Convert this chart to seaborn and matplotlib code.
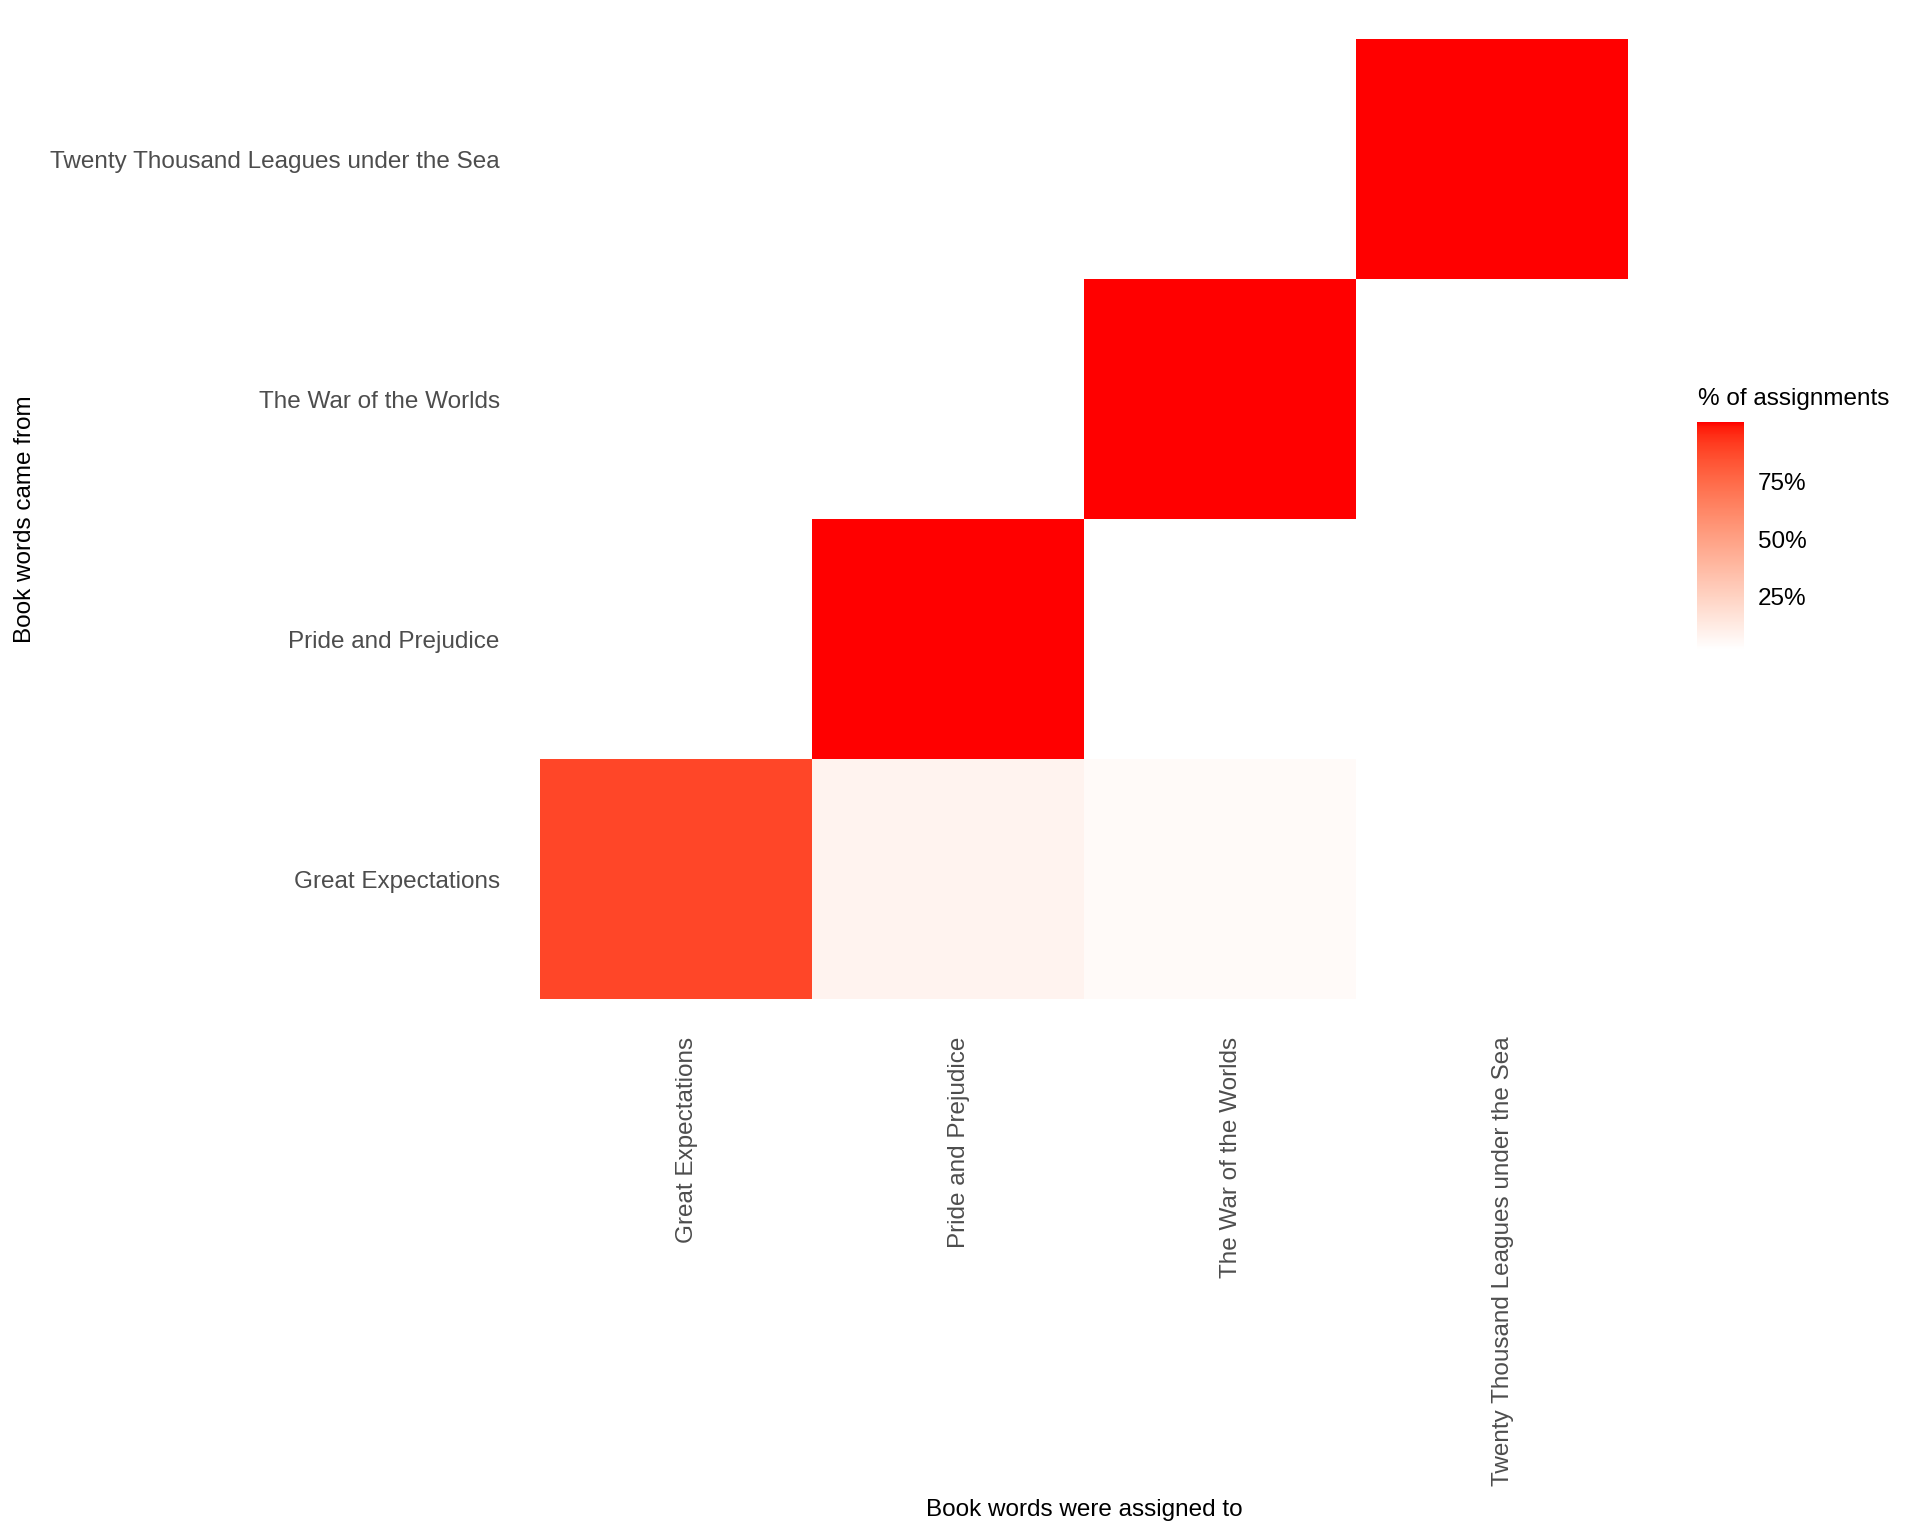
import matplotlib

matplotlib.use("Agg")
import matplotlib.pyplot as plt
import numpy as np
import pandas as pd
import seaborn as sns
from matplotlib.colors import ListedColormap
from matplotlib.transforms import ScaledTranslation

books = [
    "Great Expectations",
    "Pride and Prejudice",
    "The War of the Worlds",
    "Twenty Thousand Leagues under the Sea",
]

# % of each source book's words assigned to each book (NaN = no assignment)
great_expectations_row = [87.6, 7.4, 3.9, 1.1]
pride_prejudice_row = [np.nan, 100.0, np.nan, np.nan]
war_worlds_row = [np.nan, np.nan, 100.0, np.nan]
twenty_thousand_row = [np.nan, np.nan, np.nan, 100.0]

legend_ticks = [25, 50, 75]
legend_labels = ["25%", "50%", "75%"]


def _srgb_to_lab(rgb):
    rgb = np.asarray(rgb, dtype=float)
    lin = np.where(rgb <= 0.04045, rgb / 12.92, ((rgb + 0.055) / 1.055) ** 2.4)
    m = np.array([[0.4124, 0.3576, 0.1805],
                  [0.2126, 0.7152, 0.0722],
                  [0.0193, 0.1192, 0.9505]])
    xyz = m @ lin / np.array([0.95047, 1.0, 1.08883])
    f = np.where(xyz > 0.008856, np.cbrt(xyz), 7.787 * xyz + 16 / 116)
    return np.array([116 * f[1] - 16, 500 * (f[0] - f[1]), 200 * (f[1] - f[2])])


def _lab_to_srgb(lab):
    L, a, b = lab
    fy = (L + 16) / 116
    f = np.array([fy + a / 500, fy, fy - b / 200])
    xyz = np.where(f ** 3 > 0.008856, f ** 3, (f - 16 / 116) / 7.787)
    xyz = xyz * np.array([0.95047, 1.0, 1.08883])
    m_inv = np.array([[3.2406, -1.5372, -0.4986],
                      [-0.9689, 1.8758, 0.0415],
                      [0.0557, -0.2040, 1.0570]])
    lin = m_inv @ xyz
    rgb = np.where(lin <= 0.0031308, 12.92 * lin, 1.055 * np.clip(lin, 0, None) ** (1 / 2.4) - 0.055)
    return np.clip(rgb, 0, 1)


def lab_gradient(low, high, n=256):
    lo, hi = _srgb_to_lab(low), _srgb_to_lab(high)
    return ListedColormap([_lab_to_srgb(lo + (hi - lo) * t) for t in np.linspace(0, 1, n)])


df = pd.DataFrame(
    [twenty_thousand_row, war_worlds_row, pride_prejudice_row, great_expectations_row],
    index=books[::-1],
    columns=books,
)

sns.set_theme(style="white")
plt.rcParams["font.family"] = ["Liberation Sans", "DejaVu Sans"]
plt.rcParams["text.color"] = "black"

fig = plt.figure(figsize=(19.2, 15.36), dpi=100)
ax = fig.add_axes([540 / 1920, 537 / 1536, 1088 / 1920, 960 / 1536])
cax = fig.add_axes([1697 / 1920, 886 / 1536, 47 / 1920, 228 / 1536])

sns.heatmap(
    df,
    ax=ax,
    cbar_ax=cax,
    cmap=lab_gradient((1, 1, 1), (1, 0, 0)),
    linewidths=0,
)

ax.set_xlabel("")
ax.set_ylabel("")
ax.tick_params(axis="both", length=0, labelsize=17.5, labelcolor="#4D4D4D")
ax.tick_params(axis="x", pad=27)
ax.tick_params(axis="y", pad=29)
ax.set_xticklabels(books, rotation=90, va="top", ha="center")
ax.set_yticklabels(books[::-1], rotation=0, va="center", ha="right")
for label in ax.get_xticklabels():
    label.set_transform(label.get_transform() + ScaledTranslation(0.11, 0, fig.dpi_scale_trans))
for label in ax.get_yticklabels():
    label.set_transform(label.get_transform() + ScaledTranslation(0, -0.03, fig.dpi_scale_trans))

cbar = ax.collections[0].colorbar
cbar.set_ticks(legend_ticks)
cbar.set_ticklabels(legend_labels)
cbar.outline.set_visible(False)
cax.tick_params(axis="y", direction="in", length=9, width=1.2, color="white",
                left=True, right=True, pad=10, labelsize=17.5, labelcolor="black")
for label in cax.get_yticklabels():
    label.set_transform(label.get_transform() + ScaledTranslation(0, -0.02, fig.dpi_scale_trans))

fig.text(1698 / 1920, 1 - 399 / 1536, "% of assignments", fontsize=17.5, ha="left", va="center")
fig.text(1084 / 1920, 1 - 1510 / 1536, "Book words were assigned to", fontsize=17.5,
         ha="center", va="center")
fig.text(25 / 1920, 1 - 519 / 1536, "Book words came from", fontsize=17.5, rotation=90,
         ha="center", va="center")

fig.savefig("out.png", dpi=100, facecolor="white")
plt.close(fig)
